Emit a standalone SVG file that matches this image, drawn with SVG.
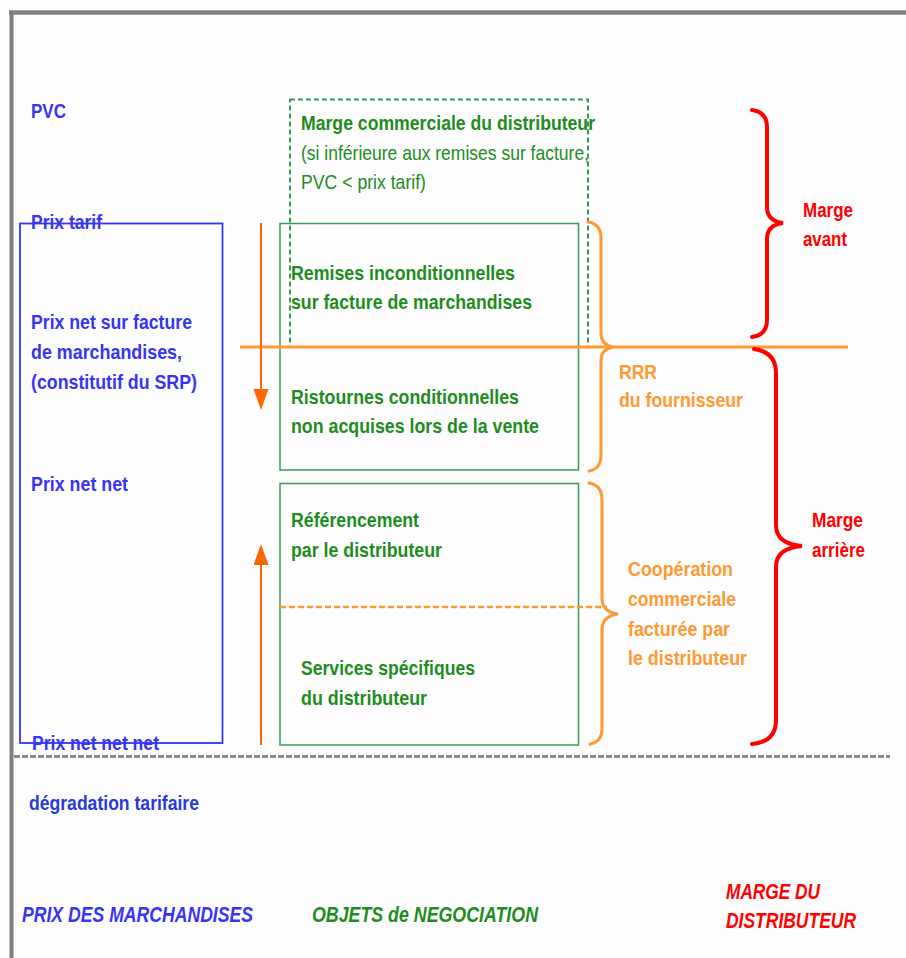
<svg xmlns="http://www.w3.org/2000/svg" width="906" height="958" viewBox="0 0 906 958">
<defs>
<style>
text{font-family:"Liberation Sans",Arial,sans-serif;font-size:21px;font-weight:bold}
.b{fill:#3535f5}
.g{fill:#1e8c1e}
.o{fill:#ff9933}
.r{fill:#ff0000}
.reg{font-weight:normal}
.it{font-style:italic;font-size:22px}
.box{fill:none;stroke:#3a9a5e;stroke-width:1.5}
.brO{fill:none;stroke:#ff9933;stroke-width:3;stroke-linecap:round}
.brR{fill:none;stroke:#ff0000;stroke-width:4;stroke-linecap:round}
.arr{stroke:#ff6600;stroke-width:2;marker-end:url(#ah)}
</style>
<marker id="ah" markerUnits="userSpaceOnUse" markerWidth="22" markerHeight="16" refX="11" refY="7.5" orient="auto">
<path d="M0,0 L21,7.5 L0,15 z" fill="#ff6600"/>
</marker>
</defs>
<rect width="906" height="958" fill="#fdfdfd"/>
<g id="frame">
<line x1="9" y1="12.5" x2="906" y2="12.5" stroke="#808080" stroke-width="4.5"/>
<line x1="11.5" y1="10.5" x2="11.5" y2="958" stroke="#808080" stroke-width="4"/>
<line x1="14" y1="756.5" x2="890" y2="756.5" stroke="#8a8a8a" stroke-width="3" stroke-dasharray="6,2"/>
</g>
<g id="prix-column">
<rect x="20" y="223.5" width="202.5" height="519.5" fill="none" stroke="#3535f5" stroke-width="1.8"/>
<text class="b" x="31" y="118" textLength="35" lengthAdjust="spacingAndGlyphs">PVC</text>
<text class="b" x="31" y="229" textLength="71" lengthAdjust="spacingAndGlyphs">Prix tarif</text>
<text class="b" x="31" y="329" textLength="161" lengthAdjust="spacingAndGlyphs">Prix net sur facture</text>
<text class="b" x="31" y="359" textLength="151" lengthAdjust="spacingAndGlyphs">de marchandises,</text>
<text class="b" x="31" y="389" textLength="166" lengthAdjust="spacingAndGlyphs">(constitutif du SRP)</text>
<text class="b" x="31" y="491" textLength="97" lengthAdjust="spacingAndGlyphs">Prix net net</text>
<text class="b" x="32" y="750" textLength="127" lengthAdjust="spacingAndGlyphs">Prix net net net</text>
<text x="29" y="810" textLength="170" lengthAdjust="spacingAndGlyphs" fill="#2a3ad8">dégradation tarifaire</text>
</g>
<g id="marge-commerciale">
<rect x="290" y="99.5" width="298" height="247.5" fill="none" stroke="#3a9a5e" stroke-width="2" stroke-dasharray="5,3"/>
<text class="g" x="301" y="130" textLength="294" lengthAdjust="spacingAndGlyphs">Marge commerciale du distributeur</text>
<text class="g reg" x="301" y="160" textLength="288" lengthAdjust="spacingAndGlyphs">(si inférieure aux remises sur facture,</text>
<text class="g reg" x="301" y="189" textLength="125" lengthAdjust="spacingAndGlyphs">PVC &lt; prix tarif)</text>
</g>
<g id="remises-ristournes">
<rect class="box" x="280" y="223.5" width="298.5" height="246.5"/>
<text class="g" x="291" y="280" textLength="224" lengthAdjust="spacingAndGlyphs">Remises inconditionnelles</text>
<text class="g" x="291" y="309" textLength="241" lengthAdjust="spacingAndGlyphs">sur facture de marchandises</text>
<text class="g" x="291" y="404" textLength="228" lengthAdjust="spacingAndGlyphs">Ristournes conditionnelles</text>
<text class="g" x="291" y="433" textLength="248" lengthAdjust="spacingAndGlyphs">non acquises lors de la vente</text>
</g>
<g id="cooperation-box">
<rect class="box" x="280" y="483.5" width="298.5" height="261.5"/>
<text class="g" x="291" y="527" textLength="128" lengthAdjust="spacingAndGlyphs">Référencement</text>
<text class="g" x="291" y="557" textLength="151" lengthAdjust="spacingAndGlyphs">par le distributeur</text>
<text class="g" x="301" y="675" textLength="174" lengthAdjust="spacingAndGlyphs">Services spécifiques</text>
<text class="g" x="301" y="705" textLength="126" lengthAdjust="spacingAndGlyphs">du distributeur</text>
</g>
<g id="connectors">
<line x1="240" y1="347" x2="848" y2="347" stroke="#ff9933" stroke-width="3"/>
<line x1="280" y1="607" x2="607" y2="607" stroke="#ff9933" stroke-width="2.5" stroke-dasharray="6,3"/>
<line class="arr" x1="261" y1="223" x2="261" y2="400"/>
<line class="arr" x1="261" y1="745" x2="261" y2="554"/>
<path class="brO" d="M588,222 Q601,224 601,238 L601,333 Q601,345 613,347 Q601,349 601,361 L601,455 Q601,469 589,471"/>
<path class="brO" d="M589,483 Q602,485 602,500 L602,598 Q602,612 618,614 Q602,616 602,630 L602,728 Q602,742 590,744"/>
<path class="brR" d="M752,110 Q767,112 767,127 L767,207 Q767,221 783,223 Q767,225 767,239 L767,320 Q767,335 752,337"/>
<path class="brR" d="M754,349 Q776,352 776,373 L776,525 Q776,544 802,546 Q776,548 776,567 L776,720 Q776,742 752,744"/>
</g>
<g id="rrr-label">
<text class="o" x="619" y="379" textLength="38" lengthAdjust="spacingAndGlyphs">RRR</text>
<text class="o" x="619" y="407" textLength="124" lengthAdjust="spacingAndGlyphs">du fournisseur</text>
</g>
<g id="cooperation-label">
<text class="o" x="628" y="576" textLength="105" lengthAdjust="spacingAndGlyphs">Coopération</text>
<text class="o" x="628" y="606" textLength="108" lengthAdjust="spacingAndGlyphs">commerciale</text>
<text class="o" x="628" y="636" textLength="102" lengthAdjust="spacingAndGlyphs">facturée par</text>
<text class="o" x="628" y="665" textLength="119" lengthAdjust="spacingAndGlyphs">le distributeur</text>
</g>
<g id="marge-avant">
<text class="r" x="803" y="217" textLength="50" lengthAdjust="spacingAndGlyphs">Marge</text>
<text class="r" x="803" y="246" textLength="44" lengthAdjust="spacingAndGlyphs">avant</text>
</g>
<g id="marge-arriere">
<text class="r" x="812" y="527" textLength="51" lengthAdjust="spacingAndGlyphs">Marge</text>
<text class="r" x="812" y="557" textLength="53" lengthAdjust="spacingAndGlyphs">arrière</text>
</g>
<g id="legend">
<text class="b it" x="22" y="922" textLength="231" lengthAdjust="spacingAndGlyphs">PRIX DES MARCHANDISES</text>
<text class="g it" x="312" y="922" textLength="226" lengthAdjust="spacingAndGlyphs">OBJETS de NEGOCIATION</text>
<text class="r it" x="726" y="899" textLength="94" lengthAdjust="spacingAndGlyphs">MARGE DU</text>
<text class="r it" x="726" y="928" textLength="130" lengthAdjust="spacingAndGlyphs">DISTRIBUTEUR</text>
</g>
</svg>
